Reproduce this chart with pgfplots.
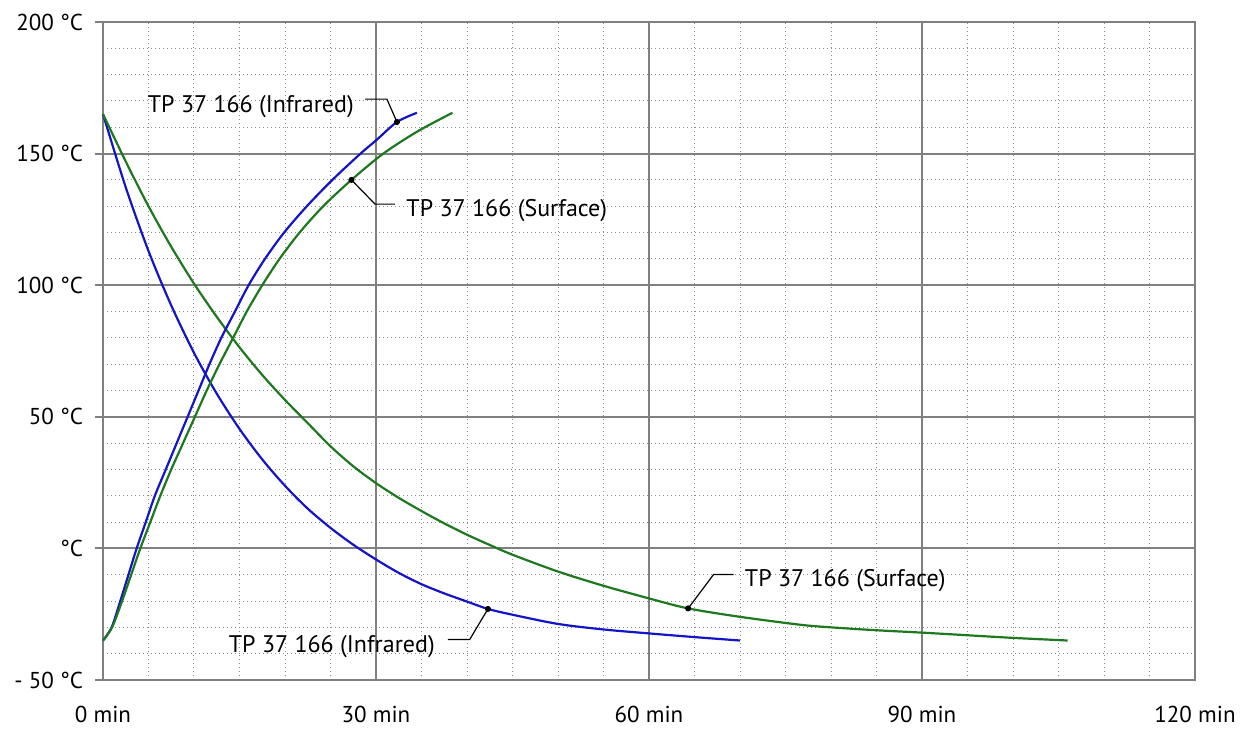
\documentclass[border=0pt]{standalone}
\usepackage{pgfplots}
\pgfplotsset{compat=1.18}
\usepackage{fontspec}
\setmainfont{PT Sans}
\definecolor{cblue}{RGB}{20,20,200}
\definecolor{cgreen}{RGB}{30,120,30}
\definecolor{cgrid}{RGB}{128,128,128}
\definecolor{cminor}{RGB}{140,140,140}
\begin{document}
\begin{tikzpicture}
\path[use as bounding box] (-51.5bp,-25.5bp) rectangle (575bp,340bp);
\begin{axis}[
  at={(0,0)}, anchor=south west,
  scale only axis, width=546bp, height=329bp,
  xmin=0, xmax=120, ymin=-50, ymax=200,
  xtick={0,30,60,90,120},
  xticklabels={0 min,30 min,60 min,90 min,120 min},
  ytick={-50,0,50,100,150,200},
  yticklabels={- 50 °C,°C,50 °C,100 °C,150 °C,200 °C},
  minor xtick={5,10,...,115},
  minor ytick={-40,-30,...,190},
  grid=both,
  major grid style={draw=cgrid, line width=1bp},
  minor grid style={draw=cminor, line width=0.5bp, dash pattern=on 0.7bp off 1.3bp},
  axis line style={draw=cgrid, line width=1bp},
  tick align=outside,
  major tick length=4bp,
  minor tick length=0pt,
  xtick style={draw=none},
  ytick style={draw=cgrid, line width=1bp},
  ytick pos=left,
  xtick pos=bottom,
  tick label style={font=\fontsize{11.5bp}{13bp}\selectfont, text=black},
  xticklabel style={anchor=north, inner sep=0pt, yshift=-9bp},
  yticklabel style={anchor=east, xshift=-2.5bp},
  clip=false,
]
% Infrared, cooling
\addplot[cblue, line width=1.1bp, smooth, tension=0.5] coordinates {
(0,165)(2.5,137.2)(5,113)(7.5,92.3)(10,74.3)(12.5,58.8)(15,45.4)(17.5,33.8)
(20,23.8)(22.5,15.1)(25,7.8)(27.5,1.4)(30,-4.2)(32.5,-9.3)(35,-13.6)(37.5,-17.1)
(40,-20.2)(42.3,-23)(45,-25.2)(50,-28.7)(55,-30.8)(60,-32.3)(65,-33.7)(70,-35)};
% Surface, cooling
\addplot[cgreen, line width=1.1bp, smooth, tension=0.5] coordinates {
(0,165)(2.5,147)(5,130)(7.5,114.6)(10,100.6)(12.5,88)(15,76.4)(17.5,65.9)
(20,56.4)(22.5,47.6)(25,38.8)(27.5,31.2)(30,24.8)(32.5,19.2)(35,14.2)(37.5,9.5)
(40,5.2)(42.5,1.3)(45,-2.4)(50,-8.8)(55,-14.2)(60,-19)(64.3,-22.8)(70,-26)
(76.6,-29)(80,-30)(85,-31.1)(90,-32)(95,-33)(100,-34)(106,-35)};
% Infrared, heating
\addplot[cblue, line width=1.1bp, smooth, tension=0.5] coordinates {
(0,-35)(0.95,-30)(1.9,-20)(2.8,-10)(3.7,0)(4.7,10)(5.7,20)(6.9,30)(8.1,40)
(9.3,50)(10.5,60)(11.7,70)(13.0,80)(14.5,90)(16.0,100)(17.8,110)(19.9,120)
(22.4,130)(25.2,140)(28.3,150)(30,155)(32.3,162)(34.5,165.5)};
% Surface, heating
\addplot[cgreen, line width=1.1bp, smooth, tension=0.5] coordinates {
(0,-35)(1.0,-30)(2.1,-20)(3.1,-10)(4.1,0)(5.2,10)(6.3,20)(7.5,30)(8.8,40)
(10.1,50)(11.4,60)(12.8,70)(14.3,80)(15.8,90)(17.5,100)(19.4,110)(21.6,120)
(24.2,130)(27.3,140)(30.8,150)(34.6,158.5)(38.4,165.5)};
% annotation dots
\addplot[only marks, mark=*, mark size=1.3bp, black] coordinates {
(32.3,162)(27.3,140)(42.3,-23)(64.3,-22.8)};
% leader lines
\draw[black, line width=0.6bp] (axis cs:28.8,170.7) -- (axis cs:31.2,170.7) -- (axis cs:32.3,162);
\draw[black, line width=0.6bp] (axis cs:27.3,140) -- (axis cs:29.9,130.8) -- (axis cs:32.1,130.8);
\draw[black, line width=0.6bp] (axis cs:37.9,-34.6) -- (axis cs:40.3,-34.6) -- (axis cs:42.3,-23);
\draw[black, line width=0.6bp] (axis cs:64.3,-22.8) -- (axis cs:67.1,-9.9) -- (axis cs:69.3,-9.9);
% labels
\node[anchor=base east, inner sep=0pt, font=\fontsize{12bp}{14bp}\selectfont] at (axis cs:27.6,165.7) {TP 37 166 (Infrared)};
\node[anchor=base west, inner sep=0pt, font=\fontsize{12bp}{14bp}\selectfont] at (axis cs:33.3,126.1) {TP 37 166 (Surface)};
\node[anchor=base east, inner sep=0pt, font=\fontsize{12bp}{14bp}\selectfont] at (axis cs:36.5,-39.7) {TP 37 166 (Infrared)};
\node[anchor=base west, inner sep=0pt, font=\fontsize{12bp}{14bp}\selectfont] at (axis cs:70.5,-14.3) {TP 37 166 (Surface)};
\end{axis}
\end{tikzpicture}
\end{document}
